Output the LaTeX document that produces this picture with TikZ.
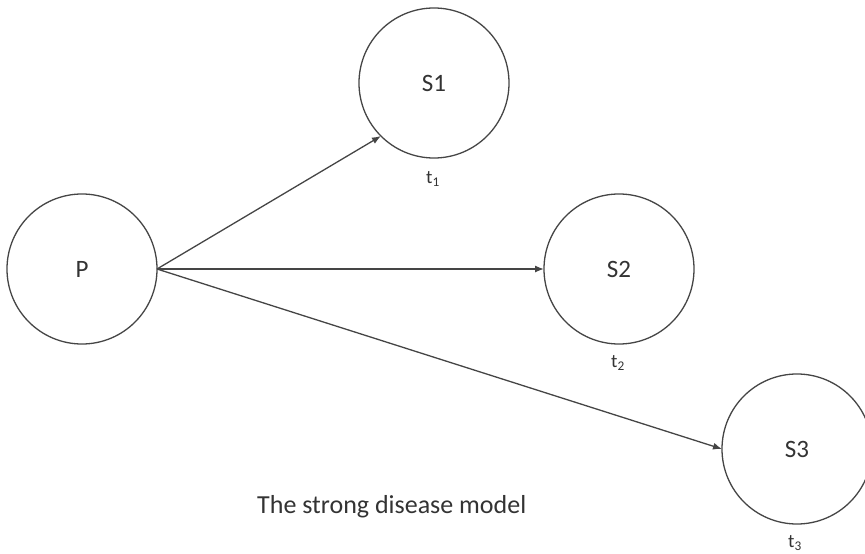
\documentclass[tikz,border=0pt]{standalone}
\usepackage{fontspec}
\setmainfont{Carlito}
\usetikzlibrary{arrows.meta}
\definecolor{ln}{HTML}{454545}
\definecolor{tx}{HTML}{333333}
\begin{document}
\begin{tikzpicture}[x=1pt,y=-1pt,
  state/.style={circle,draw=ln,line width=1.3pt,minimum size=150pt,inner sep=0pt,outer sep=0pt,text=tx,font=\fontsize{25}{28}\selectfont},
  tlabel/.style={text=tx,font=\fontsize{19}{21}\selectfont,inner sep=0pt},
  conn/.style={draw=ln,line width=1.3pt,-{Latex[length=9pt,width=7pt]}}]
\useasboundingbox (0,0) rectangle (865,554);
\node[state] (P) at (82,269) {P};
\node[state] (S1) at (434,83) {S1};
\node[state] (S2) at (619,269) {S2};
\node[state] (S3) at (797,449) {S3};
\node[tlabel] (t1) at (433,179) {t\textsubscript{1}};
\node[tlabel] (t2) at (618,363) {t\textsubscript{2}};
\node[tlabel] (t3) at (795,543) {t\textsubscript{3}};
\node[text=tx,font=\fontsize{26}{30}\selectfont,anchor=west,inner sep=0pt] (cap) at (257,507) {The strong disease model};
\draw[conn] (P.east) -- (S1.south west);
\draw[conn] (P.east) -- (S2.west);
\draw[conn] (P.east) -- (S3.west);
\end{tikzpicture}
\end{document}
